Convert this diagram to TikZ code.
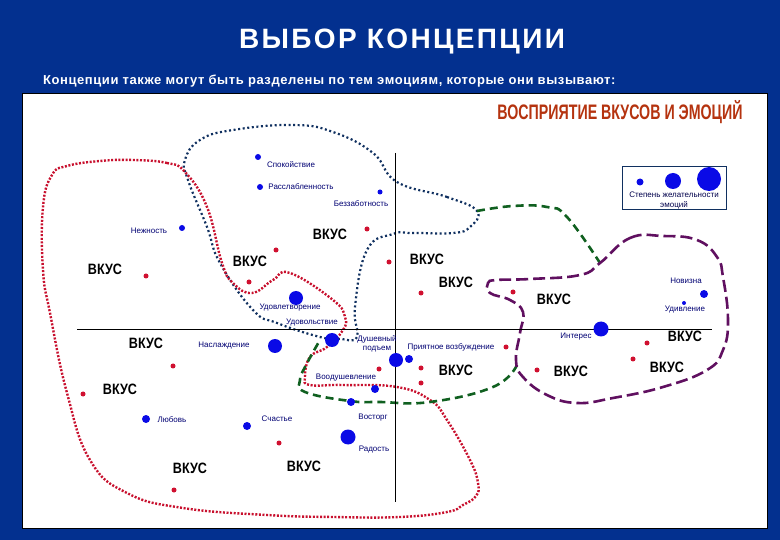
\documentclass[tikz,border=0pt]{standalone}
\usepackage{fontspec}
\setmainfont{Liberation Sans}
\definecolor{slideblue}{HTML}{03308F}
\definecolor{emoblue}{HTML}{0A0AE6}
\definecolor{tastered}{HTML}{D01030}
\definecolor{curvered}{HTML}{C8102E}
\definecolor{curveblue}{HTML}{103060}
\definecolor{curvegreen}{HTML}{106020}
\definecolor{curvepurple}{HTML}{601060}
\definecolor{headred}{HTML}{B5330F}
\tikzset{
  x=1pt,y=-1pt,
  emo/.style={circle,fill=emoblue,inner sep=0pt,minimum size=#1},
  emo/.default=6pt,
  taste/.style={circle,fill=tastered,inner sep=0pt,minimum size=5pt},
  vkus/.style={font=\bfseries\fontsize{15}{15}\selectfont,xscale=.84,inner sep=0pt},
  lbl/.style={font=\fontsize{8}{9}\selectfont,text=blue!45!black,inner sep=0pt,align=center},
  redline/.style={draw=curvered,line width=2.4pt,dash pattern=on 2pt off 1.6pt},
  blueline/.style={draw=curveblue,line width=2.2pt,dash pattern=on 2pt off 2.6pt},
  greenline/.style={draw=curvegreen,line width=2.6pt,dash pattern=on 8pt off 5pt},
  purpleline/.style={draw=curvepurple,line width=2.6pt,dash pattern=on 12pt off 5pt}
}
\begin{document}
\begin{tikzpicture}
  \fill[slideblue] (0,0) rectangle (780,540);
  \fill[white,draw=black] (22,93) rectangle (767,528);

  \node[font=\bfseries\fontsize{28}{28}\selectfont\addfontfeature{LetterSpace=8.5},text=white,inner sep=0pt] (title) at (402,42) {ВЫБОР КОНЦЕПЦИИ};
  \node[font=\bfseries\fontsize{13}{13}\selectfont\addfontfeature{LetterSpace=4.4},text=white,inner sep=0pt,anchor=west] (subtitle) at (43,81) {Концепции также могут быть разделены по тем эмоциям, которые они вызывают:};
  \node[font=\bfseries\fontsize{21}{21}\selectfont,text=headred,inner sep=0pt,xscale=.677] (head) at (620,112) {ВОСПРИЯТИЕ ВКУСОВ И ЭМОЦИЙ};

  % curves
  \draw[blueline] plot[smooth cycle,tension=.75] coordinates {(477,211) (447,197) (397,182) (373,153) (333,132) (293,125) (233,130) (200,140) (185,160) (188,180) (207,227) (220,263) (253,310) (277,323) (320,337) (340,339) (357,337) (355,307) (367,250) (393,234) (413,233) (453,233) (470,227)};
  \draw[redline] plot[smooth cycle,tension=.75] coordinates {(185,172) (167,163) (133,160) (100,161) (67,166) (52,175) (43,207) (43,270) (50,313) (67,393) (90,460) (127,493) (183,508) (267,515) (333,517) (400,517) (447,512) (463,505) (476,496) (478,483) (470,460) (447,420) (430,400) (397,387) (343,385) (310,385) (305,377) (310,357) (327,347) (343,330) (345,317) (333,300) (290,273) (273,280) (252,293) (233,283) (222,263) (207,207)};
  \draw[greenline] plot[smooth,tension=.75] coordinates {(477,211) (513,206) (547,207) (567,217) (600,263)};
  \draw[greenline] plot[smooth,tension=.75] coordinates {(517,365) (493,387) (430,402) (380,402) (350,401) (305,392) (300,380) (305,367) (320,340)};
  \draw[purpleline] plot[smooth cycle,tension=.75] coordinates {(600,263) (630,238) (663,236) (697,240) (717,257) (723,277) (728,320) (723,350) (707,370) (663,387) (613,398) (577,403) (547,395) (523,377) (516,360) (520,333) (523,312) (510,300) (490,293) (488,283) (497,280) (530,279) (580,275)};

  % axes
  \coordinate (xa) at (77,329);
  \coordinate (xb) at (712,329);
  \coordinate (ya) at (395,153);
  \coordinate (yb) at (395,502);
  \draw (xa) -- (xb);
  \draw (ya) -- (yb);

  % legend
  \node[draw=curveblue,thick,minimum width=104pt,minimum height=43pt,inner sep=0pt] (legend) at (674.5,187.5) {};
  \node[emo=7pt] (l1) at (640,182) {};
  \node[emo=16pt] (l2) at (673,181) {};
  \node[emo=24pt] (l3) at (709,179) {};
  \node[lbl,text=black!70!blue,font=\fontsize{8}{10}\selectfont] (l4) at (674,201) {Степень желательности\\эмоций};

  % emotions
  \node[emo=6pt] (e1) at (258,157) {};
  \node[lbl] (t1) at (291,165) {Спокойствие};
  \node[emo=6pt] (e2) at (260,187) {};
  \node[lbl] (t2) at (301,187) {Расслабленность};
  \node[emo=5pt] (e3) at (380,192) {};
  \node[lbl] (t3) at (361,204) {Беззаботность};
  \node[emo=6pt] (e4) at (182,228) {};
  \node[lbl] (t4) at (149,231) {Нежность};
  \node[emo=14pt] (e5) at (296,298) {};
  \node[lbl] (t5) at (290,308) {Удовлетворение};
  \node[lbl] (t6) at (312,323) {Удовольствие};
  \node[emo=14pt] (e7) at (275,346) {};
  \node[lbl] (t7) at (224,346) {Наслаждение};
  \node[emo=14pt] (e8) at (332,340) {};
  \node[lbl] (t8) at (377,344) {Душевный\\подъем};
  \node[emo=14pt] (e9) at (396,360) {};
  \node[emo=8pt] (e10) at (409,359) {};
  \node[lbl] (t10) at (451,347) {Приятное возбуждение};
  \node[emo=8pt] (e11) at (375,389) {};
  \node[lbl] (t11) at (346,378) {Воодушевление};
  \node[emo=8pt] (e12) at (351,402) {};
  \node[lbl] (t12) at (373,418) {Восторг};
  \node[emo=15pt] (e13) at (348,437) {};
  \node[lbl] (t13) at (374,450) {Радость};
  \node[emo=8pt] (e14) at (146,419) {};
  \node[lbl] (t14) at (172,420) {Любовь};
  \node[emo=8pt] (e15) at (247,426) {};
  \node[lbl] (t15) at (277,419) {Счастье};
  \node[emo=15pt] (e16) at (601,329) {};
  \node[lbl] (t16) at (576,337) {Интерес};
  \node[emo=8pt] (e17) at (704,294) {};
  \node[lbl] (t17) at (686,281) {Новизна};
  \node[emo=4pt] (e18) at (684,303) {};
  \node[lbl] (t18) at (685,310) {Удивление};

  % taste dots
  \foreach \px/\py [count=\i] in {367/229,276/250,389/262,146/276,249/282,421/293,513/292,173/366,83/394,379/369,421/368,421/383,506/347,537/370,633/359,647/343,279/443,174/490}
    \node[taste] (d\i) at (\px,\py) {};

  % taste labels
  \node[vkus] (v1) at (330,234) {ВКУС};
  \node[vkus] (v2) at (250,261) {ВКУС};
  \node[vkus] (v3) at (105,269) {ВКУС};
  \node[vkus] (v4) at (427,259) {ВКУС};
  \node[vkus] (v5) at (456,282) {ВКУС};
  \node[vkus] (v6) at (554,299) {ВКУС};
  \node[vkus] (v7) at (146,343) {ВКУС};
  \node[vkus] (v8) at (685,336) {ВКУС};
  \node[vkus] (v9) at (667,367) {ВКУС};
  \node[vkus] (v10) at (456,370) {ВКУС};
  \node[vkus] (v11) at (571,371) {ВКУС};
  \node[vkus] (v12) at (120,389) {ВКУС};
  \node[vkus] (v13) at (190,468) {ВКУС};
  \node[vkus] (v14) at (304,466) {ВКУС};
\end{tikzpicture}
\end{document}
